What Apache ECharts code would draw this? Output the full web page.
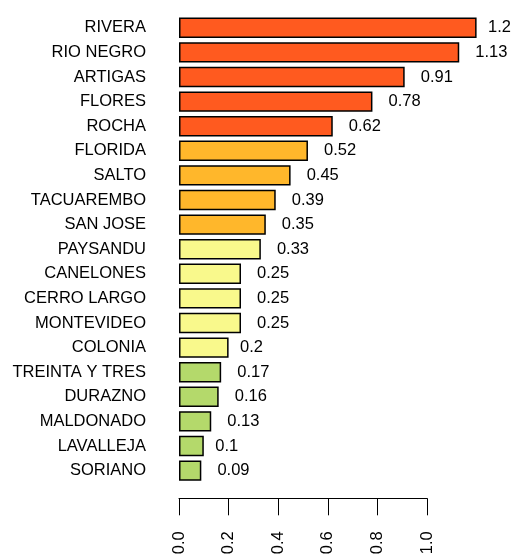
<!DOCTYPE html>
<html>
<head>
<meta charset="utf-8">
<script src="https://cdn.jsdelivr.net/npm/echarts@6/dist/echarts.min.js"></script>
<style>html,body{margin:0;padding:0;background:#fff}#c{width:513px;height:558px}</style>
</head>
<body>
<div id="c"></div>
<script>
const categories = ["RIVERA","RIO NEGRO","ARTIGAS","FLORES","ROCHA","FLORIDA","SALTO","TACUAREMBO","SAN JOSE","PAYSANDU","CANELONES","CERRO LARGO","MONTEVIDEO","COLONIA","TREINTA Y TRES","DURAZNO","MALDONADO","LAVALLEJA","SORIANO"];
const values = [1.2,1.13,0.91,0.78,0.62,0.52,0.45,0.39,0.35,0.33,0.25,0.25,0.25,0.2,0.17,0.16,0.13,0.1,0.09];
const groups = [0,0,0,0,0,1,1,1,1,2,2,2,2,2,3,3,3,3,3];
const tickValues = [0,0.2,0.4,0.6,0.8,1.0];
const palette = ["#FF5A1F","#FFB72B","#F9F98C","#B4D96B"];
const FONT = "Liberation Sans, Arial, sans-serif";
const FS = 16.5;

const mctx = document.createElement("canvas").getContext("2d");
mctx.font = FS + "px " + FONT;
function fmt(v){ return String(v); }

const nCat = categories.length;
const bandH = 24.6;
const gridTop = 15.5;
const unitW = 248;

const chart = echarts.init(document.getElementById("c"), null, {renderer:"canvas"});
chart.setOption({
  animation:false,
  grid:[
    {left:179, top:gridTop, width:1.2*unitW, height:bandH*nCat, containLabel:false},
    {left:179, top:490, width:unitW, height:8.3, containLabel:false}
  ],
  xAxis:[
    {gridIndex:0, type:"value", min:0, max:1.2, show:false},
    {gridIndex:1, type:"value", min:0, max:1.0, interval:0.2, position:"bottom",
     axisLine:{show:true, lineStyle:{color:"#000", width:1}},
     axisTick:{show:true, length:17, lineStyle:{color:"#000", width:1}},
     splitLine:{show:false},
     axisLabel:{rotate:90, margin:33, color:"#000", fontSize:FS, fontFamily:FONT,
       formatter:(v)=>Number(v).toFixed(1)}}
  ],
  yAxis:[
    {gridIndex:0, type:"category", data:categories, inverse:true,
     axisLine:{show:false}, axisTick:{show:false}, splitLine:{show:false},
     axisLabel:{margin:33, color:"#000", fontSize:FS, fontFamily:FONT}},
    {gridIndex:1, type:"value", show:false}
  ],
  series:[{
    type:"bar", xAxisIndex:0, yAxisIndex:0,
    barCategoryGap:"17%",
    data: values.map((v,i)=>{
      const w = mctx.measureText(fmt(v)).width;
      return {
        value:v,
        itemStyle:{color:palette[groups[i]], borderColor:"#000", borderWidth:1.5},
        label:{show:true, position:"right", distance:w/2, formatter:fmt(v),
               color:"#000", fontSize:FS, fontFamily:FONT}
      };
    })
  }]
});
</script>
</body>
</html>
